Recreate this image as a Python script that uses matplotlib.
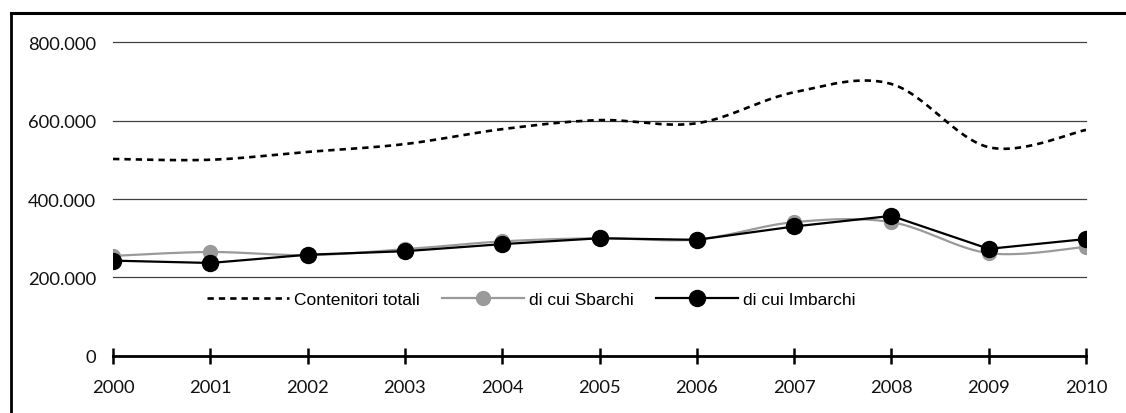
import numpy as np
import matplotlib
matplotlib.use("Agg")
import matplotlib.pyplot as plt
from matplotlib import font_manager
from matplotlib.lines import Line2D

years = [2000, 2001, 2002, 2003, 2004, 2005, 2006, 2007, 2008, 2009, 2010]
contenitori_totali = [502000, 500000, 520000, 540000, 578000, 601000, 593000, 672000, 693000, 532000, 576000]
sbarchi = [255000, 265000, 257000, 272000, 292000, 300000, 297000, 341000, 341000, 262000, 278000]
imbarchi = [243000, 237000, 258000, 267000, 285000, 300000, 296000, 330000, 357000, 273000, 298000]
y_ticks = [0, 200000, 400000, 600000, 800000]
y_tick_labels = ["0", "200.000", "400.000", "600.000", "800.000"]

available = {f.name for f in font_manager.fontManager.ttflist}
narrow = "Liberation Sans Narrow" if "Liberation Sans Narrow" in available else "Liberation Sans"
tick_font = "Lato" if "Lato" in available else "DejaVu Sans"


def smooth(x, y, n=30):
    """Bezier smoothing through every point (spreadsheet-style smoothed line)."""
    x = np.asarray(x, float)
    y = np.asarray(y, float)
    px = np.concatenate([[x[0]], x, [x[-1]]])
    py = np.concatenate([[y[0]], y, [y[-1]]])
    xs, ys = [], []
    t = np.linspace(0, 1, n)
    for i in range(len(x) - 1):
        p0 = np.array([px[i + 1], py[i + 1]])
        p3 = np.array([px[i + 2], py[i + 2]])
        c1 = p0 + (np.array([px[i + 2], py[i + 2]]) - np.array([px[i], py[i]])) / 6
        c2 = p3 - (np.array([px[i + 3], py[i + 3]]) - np.array([px[i + 1], py[i + 1]])) / 6
        b = ((1 - t) ** 3)[:, None] * p0 + (3 * (1 - t) ** 2 * t)[:, None] * c1 \
            + (3 * (1 - t) * t ** 2)[:, None] * c2 + (t ** 3)[:, None] * p3
        xs.append(b[:, 0])
        ys.append(b[:, 1])
    return np.concatenate(xs), np.concatenate(ys)


fig = plt.figure(figsize=(11.26, 4.14), dpi=100)
ax = fig.add_axes([0.1004, 0.1377, 0.8641, 0.7584])

for v in y_ticks[1:]:
    ax.axhline(v, color="#404040", lw=0.9, zorder=1, clip_on=False)

sx, sy = smooth(years, contenitori_totali)
ax.plot(sx, sy, color="black", lw=1.9, dashes=(2.4, 1.9), zorder=3)

gx, gy = smooth(years, sbarchi)
ax.plot(gx, gy, color="#9a9a9a", lw=1.6, zorder=4)
ax.plot(years, sbarchi, ls="none", marker="o", ms=10, color="#9a9a9a", zorder=4)

ax.plot(years, imbarchi, color="black", lw=1.6, marker="o", ms=11.5, zorder=5)

ax.set_xlim(2000, 2010)
ax.set_ylim(0, 800000)
ax.set_xticks(years)
ax.set_xticklabels([str(y) for y in years], fontfamily=tick_font, fontsize=13.2, color="#111111")
ax.set_yticks(y_ticks)
ax.set_yticklabels(y_tick_labels, fontfamily=tick_font, fontsize=13.2, color="#111111")

for s in ["top", "right", "left"]:
    ax.spines[s].set_visible(False)
ax.spines["bottom"].set_linewidth(2.0)
ax.spines["bottom"].set_zorder(6)
ax.tick_params(axis="x", direction="inout", length=11, width=1.8, pad=11)
ax.tick_params(axis="y", length=0, pad=12)

handles = [
    Line2D([], [], color="black", lw=1.9, dashes=(2.4, 1.9)),
    Line2D([], [], color="#9a9a9a", lw=1.6, marker="o", ms=10),
    Line2D([], [], color="black", lw=1.6, marker="o", ms=11.5),
]
labels = ["Contenitori totali", "di cui Sbarchi", "di cui Imbarchi"]
ax.legend(handles, labels, loc="center left", bbox_to_anchor=(0.081, 0.18),
          ncol=3, frameon=False, handlelength=4.7, handletextpad=0.29,
          columnspacing=1.3, prop={"family": narrow, "size": 12.5})

# outer frame (top and left edges)
fig.add_artist(Line2D([10.5 / 1126, 10.5 / 1126], [0, 1 - 14 / 414], transform=fig.transFigure,
                      color="black", lw=2.0))
fig.add_artist(Line2D([10.5 / 1126, 1], [1 - 14 / 414, 1 - 14 / 414], transform=fig.transFigure,
                      color="black", lw=2.2))

fig.savefig("out.png", dpi=100)
